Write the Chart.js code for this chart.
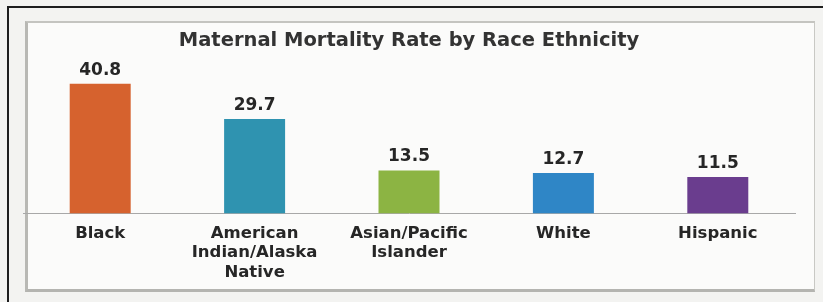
<!DOCTYPE html>
<html>
<head>
<meta charset="utf-8">
<script src="https://cdn.jsdelivr.net/npm/chart.js@4/dist/chart.umd.min.js"></script>
<style>
  html, body { margin: 0; padding: 0; }
  body { width: 823px; height: 302px; background: #f3f3f1; position: relative; overflow: hidden; }
  .outer { position: absolute; left: 7px; top: 6px; width: 840px; height: 320px; border: 2px solid #1e1e1e; box-sizing: border-box; }
  .panel { position: absolute; left: 25px; top: 21px; width: 790px; height: 271px; background: #fbfbfa;
           border-left: 3px solid #b8b8b4; border-top: 2px solid #c4c4c0; border-bottom: 3px solid #b4b4b0; border-right: 1px solid #c8c8c4;
           box-sizing: border-box; }
  canvas { position: absolute; left: 0; top: 0; }
</style>
</head>
<body>
<div class="outer"></div>
<div class="panel"></div>
<canvas id="chart" width="823" height="302"></canvas>
<script>
// chart data
const categories = ['Black', ['American', 'Indian/Alaska', 'Native'], ['Asian/Pacific', 'Islander'], 'White', 'Hispanic'];
const rates = [40.8, 29.7, 13.5, 12.7, 11.5];
const barColors = ['#d6622e', '#2f93b0', '#8cb443', '#2f86c6', '#6a3d8e'];

// draws the value above each bar
const valueLabels = {
    id: 'valueLabels',
    afterDatasetsDraw(chart) {
        const ctx = chart.ctx;
        const meta = chart.getDatasetMeta(0);
        ctx.save();
        ctx.font = 'bold 17px "DejaVu Sans"';
        ctx.fillStyle = '#262626';
        ctx.textAlign = 'center';
        ctx.textBaseline = 'bottom';
        meta.data.forEach((bar, i) => {
            ctx.fillText(rates[i].toFixed(1), bar.x, bar.y - 5);
        });
        ctx.restore();
    }
};

const ctx = document.getElementById('chart').getContext('2d');
new Chart(ctx, {
    type: 'bar',
    data: {
        labels: categories,
        datasets: [{
            data: rates,
            backgroundColor: barColors,
            borderWidth: 0,
            categoryPercentage: 1,
            barPercentage: 0.395
        }]
    },
    options: {
        responsive: false,
        animation: false,
        layout: { padding: { left: 23, right: 28, top: 0, bottom: 10 } },
        scales: {
            x: {
                grid: { display: false, drawTicks: false },
                border: { display: true, color: '#a8a8a8', width: 1, dash: [2, 2] },
                ticks: {
                    padding: 10,
                    color: '#262626',
                    maxRotation: 0,
                    autoSkip: false,
                    font: { family: 'DejaVu Sans', weight: 'bold', size: 16.5, lineHeight: '19.5px' }
                }
            },
            y: {
                display: false,
                min: 0,
                max: 45
            }
        },
        plugins: {
            legend: { display: false },
            tooltip: { enabled: false },
            title: {
                display: true,
                text: 'Maternal Mortality Rate by Race Ethnicity',
                color: '#333333',
                font: { family: 'DejaVu Sans', weight: 'bold', size: 19.5, lineHeight: 1.2 },
                padding: { top: 29, bottom: 18 }
            }
        }
    },
    plugins: [valueLabels]
});
</script>
</body>
</html>
